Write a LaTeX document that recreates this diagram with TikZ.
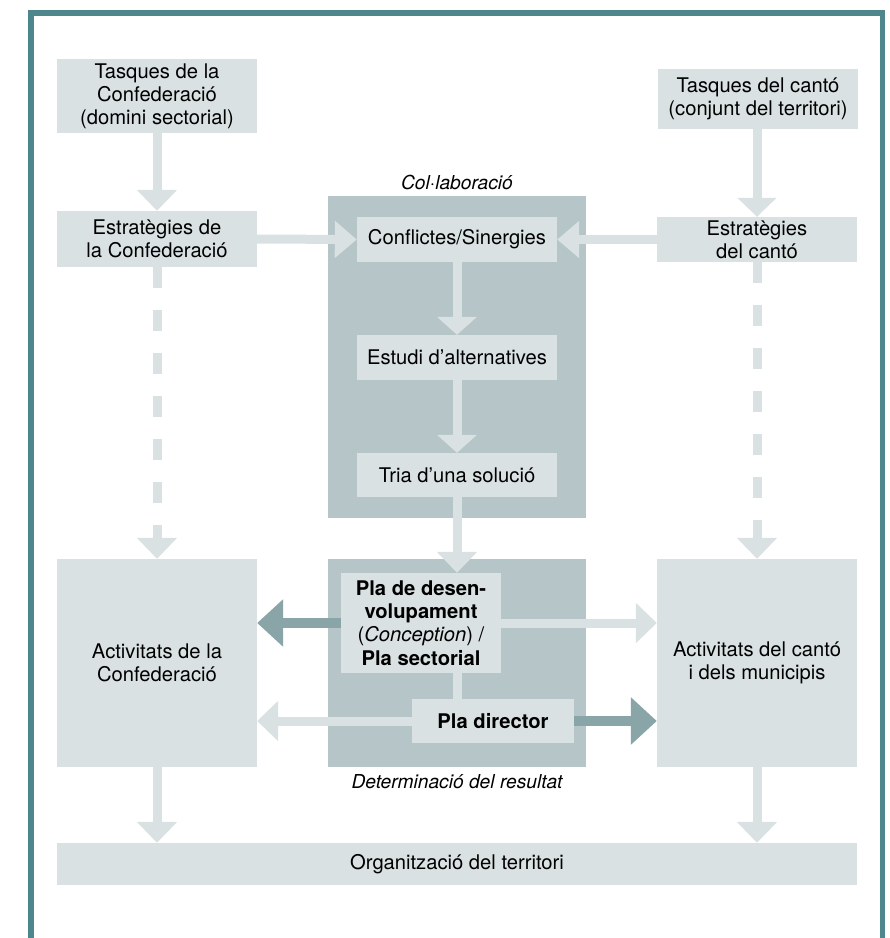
\documentclass[tikz,border=0pt]{standalone}
\usepackage{fontspec}
\setmainfont{TeX Gyre Heros}
\usetikzlibrary{arrows.meta}
\definecolor{lightc}{HTML}{D9E1E2}
\definecolor{midc}{HTML}{B5C5C8}
\definecolor{darkc}{HTML}{8AA5A8}
\definecolor{framec}{HTML}{4D878B}
\begin{document}
\begin{tikzpicture}[x=1pt,y=-1pt,
  box/.style={fill=lightc, inner sep=0pt, align=center, text=black, font=\fontsize{20.2}{23.2}\selectfont},
  grp/.style={fill=midc, inner sep=0pt},
  lbl/.style={inner sep=0pt, font=\fontsize{19.2}{23}\selectfont\itshape},
  lar/.style={draw=lightc, line width=9pt, -{Triangle[length=21pt,width=39pt]}},
  larshort/.style={draw=lightc, line width=9pt, -{Triangle[length=18pt,width=39pt]}},
  larh/.style={draw=lightc, line width=9pt, -{Triangle[length=22pt,width=36pt]}},
  dar/.style={draw=darkc, line width=10pt, -{Triangle[length=26pt,width=46pt]}},
  dashedarrow/.style={dash pattern=on 21pt off 22pt}
]
\useasboundingbox (0,0) rectangle (890,938);
\fill[white] (0,0) rectangle (890,938);
\draw[framec, line width=5.5pt] (31,938) -- (31,12.75) -- (882.5,12.75) -- (882.5,938);

% group backgrounds
\node[grp, minimum width=258pt, minimum height=322pt] (collab) at (457,357) {};
\node[grp, minimum width=258pt, minimum height=208pt] (det) at (457,663) {};
\node[lbl] (collabl) at (457,182) {Col·laboració};
\node[lbl] (detl) at (457,782) {Determinació del resultat};

% boxes
\node[box, minimum width=200pt, minimum height=74pt] (t1) at (157,96) {Tasques de la\\Confederació\\(domini sectorial)};
\node[box, minimum width=200pt, minimum height=60pt] (t2) at (758,99) {Tasques del cantó\\(conjunt del territori)};
\node[box, minimum width=200pt, minimum height=56pt] (s1) at (157,239) {Estratègies de\\la Confederació};
\node[box, minimum width=200pt, minimum height=45pt] (s2) at (757,239.5) {Estratègies\\del cantó};
\node[box, minimum width=200pt, minimum height=45pt] (c1) at (457,239.5) {Conflictes/Sinergies};
\node[box, minimum width=200pt, minimum height=45pt] (c2) at (457,357.5) {Estudi d’alternatives};
\node[box, minimum width=200pt, minimum height=44pt] (c3) at (457,475) {Tria d’una solució};
\node[box, minimum width=160pt, minimum height=100pt] (p1) at (421,623) {\textbf{Pla de desen-}\\\textbf{volupament}\\(\textit{Conception}) /\\\textbf{Pla sectorial}};
\node[box, minimum width=162pt, minimum height=44pt] (p2) at (493,721) {\textbf{Pla director}};
\node[box, minimum width=200pt, minimum height=208pt] (a1) at (157,663) {Activitats de la\\Confederació};
\node[box, minimum width=200pt, minimum height=208pt] (a2) at (757,663) {Activitats del cantó\\i dels municipis};
\node[box, minimum width=800pt, minimum height=42pt] (o) at (457,864) {Organització del territori};

% connectors
\draw[lar] (t1.south) -- (s1.north);
\draw[lightc, line width=9pt, -{Triangle[length=19pt,width=38pt]}] (s2.north |- t2.south) -- (s2.north);
\draw[larh] (s1.east) -- (c1.west);
\draw[larh] (s2.west) -- (c1.east);
\draw[larshort] (c1.south) -- (c2.north);
\draw[larshort] (c2.south) -- (c3.north);
\draw[lar] (c3.south) -- (c3.south |- p1.north);
\draw[lightc, line width=9pt] (c3.south |- p1.south) -- (c3.south |- p2.north);
\draw[dar] (p1.west) -- (p1.west -| a1.east);
\draw[lar] (p1.east) -- (p1.east -| a2.west);
\draw[lar] (p2.west) -- (p2.west -| a1.east);
\draw[dar] (p2.east) -- (p2.east -| a2.west);
\draw[lar, dashedarrow] (s1.south) -- (a1.north);
\draw[lar, dashedarrow] (s2.south) -- (a2.north);
\draw[lar] (a1.south) -- (a1.south |- o.north);
\draw[lar] (a2.south) -- (a2.south |- o.north);
\end{tikzpicture}
\end{document}
